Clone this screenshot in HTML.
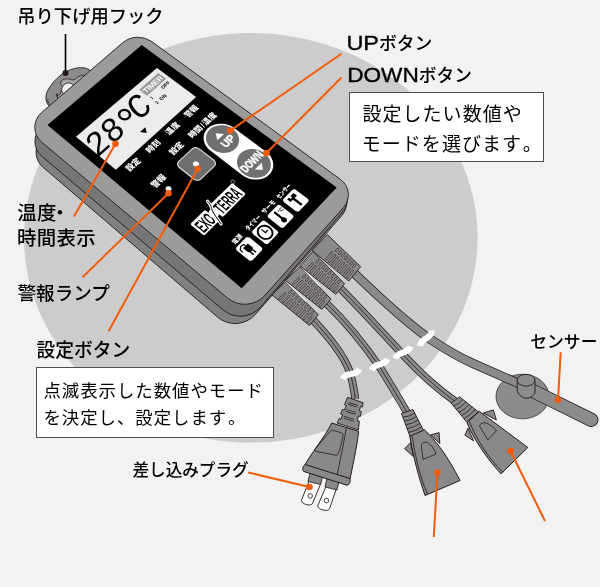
<!DOCTYPE html>
<html lang="ja"><head><meta charset="utf-8"><title>各部の名称</title>
<style>
html,body{margin:0;padding:0;background:#f2f2f2;}
body{width:600px;height:587px;overflow:hidden;}
svg{display:block;will-change:transform;font-family:"Liberation Sans","Noto Sans CJK JP",sans-serif;}
</style></head><body>
<svg width="600" height="587" viewBox="0 0 600 587">
<rect width="600" height="587" fill="#f2f2f2"/>
<ellipse cx="250.8" cy="237.8" rx="226.8" ry="204.8" fill="#cccccc"/>
<ellipse cx="522.5" cy="396.5" rx="26.5" ry="22.3" fill="#8c8c8c" stroke="#231815" stroke-width="0.7"/>
<path d="M313 320 C 332 340 348 361 351.5 378 C 353.5 387 355 394 355 399" fill="none" stroke="#231815" stroke-width="7.8" stroke-linecap="butt"/>
<path d="M313 320 C 332 340 348 361 351.5 378 C 353.5 387 355 394 355 399" fill="none" stroke="#8a8a8a" stroke-width="6.3" stroke-linecap="butt"/>
<path d="M313 320 C 332 340 348 361 351.5 378 C 353.5 387 355 394 355 399" fill="none" stroke="#231815" stroke-width="0.8"/>
<path d="M327 304 C 350 326 368 350 381 369 C 392 387 401 402 408 414" fill="none" stroke="#231815" stroke-width="7.8" stroke-linecap="butt"/>
<path d="M327 304 C 350 326 368 350 381 369 C 392 387 401 402 408 414" fill="none" stroke="#8a8a8a" stroke-width="6.3" stroke-linecap="butt"/>
<path d="M327 304 C 350 326 368 350 381 369 C 392 387 401 402 408 414" fill="none" stroke="#231815" stroke-width="0.8"/>
<path d="M340.6 288.75 C 363 311 389 340 408 360 C 424 377 442 392 456 402" fill="none" stroke="#231815" stroke-width="7.8" stroke-linecap="butt"/>
<path d="M340.6 288.75 C 363 311 389 340 408 360 C 424 377 442 392 456 402" fill="none" stroke="#8a8a8a" stroke-width="6.3" stroke-linecap="butt"/>
<path d="M340.6 288.75 C 363 311 389 340 408 360 C 424 377 442 392 456 402" fill="none" stroke="#231815" stroke-width="0.8"/>
<path d="M355 274 C 380 298 408 324 430 339 C 448 351 462 358.5 472 363 L 522 385" fill="none" stroke="#231815" stroke-width="9.2" stroke-linecap="butt"/>
<path d="M355 274 C 380 298 408 324 430 339 C 448 351 462 358.5 472 363 L 522 385" fill="none" stroke="#8a8a8a" stroke-width="7.7" stroke-linecap="butt"/>
<path transform="translate(351 374) rotate(-18)" d="M-9.5 2 C-3.17 -4.5 3.17 4.5 9.5 -2" fill="none" stroke="#fff" stroke-width="6" stroke-linecap="butt"/>
<path transform="translate(379.5 364.5) rotate(-23)" d="M-9.5 2 C-3.17 -4.5 3.17 4.5 9.5 -2" fill="none" stroke="#fff" stroke-width="6" stroke-linecap="butt"/>
<path transform="translate(402.8 352.6) rotate(-27)" d="M-9.5 2 C-3.17 -4.5 3.17 4.5 9.5 -2" fill="none" stroke="#fff" stroke-width="6" stroke-linecap="butt"/>
<path transform="translate(426.1 338.3) rotate(-41)" d="M-9.5 2 C-3.17 -4.5 3.17 4.5 9.5 -2" fill="none" stroke="#fff" stroke-width="6" stroke-linecap="butt"/>
<path d="M347.5 397.3 L363.1 402.7 L362.3 407 L360.3 406.6 L359.4 411 L361.3 411.6 L360.3 416.4 L358.4 416 L357.4 420.6 L359.4 421.2 L358.4 430 L337.2 423 L339 418.6 L341 419.2 L342.6 414.6 L340.6 414 L342.4 409.4 L344.4 410 L346.2 405.4 L344.6 404.8 Z" fill="#898989" stroke="#231815" stroke-width="0.9" stroke-linejoin="round"/>
<line x1="348.5" y1="403.5" x2="357.5" y2="406.3" stroke="#231815" stroke-width="2.6"/>
<line x1="348.5" y1="403.5" x2="357.5" y2="406.3" stroke="#898989" stroke-width="1.3"/>
<line x1="346.2" y1="410.4" x2="355.6" y2="413.2" stroke="#231815" stroke-width="2.6"/>
<line x1="346.2" y1="410.4" x2="355.6" y2="413.2" stroke="#898989" stroke-width="1.3"/>
<line x1="344" y1="417.3" x2="353.6" y2="420.2" stroke="#231815" stroke-width="2.6"/>
<line x1="344" y1="417.3" x2="353.6" y2="420.2" stroke="#898989" stroke-width="1.3"/>
<path d="M309.1 480.9 L301.6 499.9 C300.13 503.62 311.03 507.12 312.5 503.4 L320.7 483.6 Z" fill="#fff" stroke="#231815" stroke-width="0.9"/>
<circle cx="310.2" cy="495.9" r="2.3" fill="#fff" stroke="#231815" stroke-width="0.8"/>
<path d="M326.1 486.3 L317.9 505.4 C316.32 509.08 327.92 512.48 329.5 508.8 L336.3 489 Z" fill="#fff" stroke="#231815" stroke-width="0.9"/>
<circle cx="326.5" cy="500.6" r="2.3" fill="#fff" stroke="#231815" stroke-width="0.8"/>
<path d="M310.4 471 L308 481.5 L320.5 484.5 L323 475 Z" fill="#898989" stroke="#231815" stroke-width="0.8"/>
<path d="M327.5 476 L325 487 L337 490 L339.4 480 Z" fill="#898989" stroke="#231815" stroke-width="0.8"/>
<path d="M331.8 423.1 L358.6 431.3 C 358 440 354 460 350 479 L 304.3 466 C 310 455 324 438 331.8 423.1 Z" fill="#898989" stroke="#231815" stroke-width="1"/>
<path d="M346.3 427.6 C 345 436 342 452 337.2 474.5" fill="none" stroke="#231815" stroke-width="0.8"/>
<path d="M331.4 430 L341.6 432.8 Q343.4 433.5 343 435.5 C 342 442 340 449 338.2 454 Q337.5 455.6 335.5 455.2 L 315.5 451.2 Q 314 450.6 315 449 C 321 442 326 436 331.4 430 Z" fill="none" stroke="#231815" stroke-width="0.8"/>
<path d="M305.4 464.6 C 302.6 465.6 302 469.5 303.6 471.4 L 347 485.2 C 350 484.6 351 480.6 349.6 478.4 Z" fill="#898989" stroke="#231815" stroke-width="1"/>
<path d="M410.7 442.5 L404.6 448.7 L413.4 456.6Z" fill="#898989" stroke="#231815" stroke-width="0.9" stroke-linejoin="round"/>
<path d="M430.6 434.9 L439.1 432.6 L439.8 443.5Z" fill="#898989" stroke="#231815" stroke-width="0.9" stroke-linejoin="round"/>
<path d="M409.7 435.6 L424.3 429.6 C 436 441 447 455 460 480.5 L 425 495.5 C 419 478 413 456 409.7 435.6 Z" fill="#898989" stroke="#231815" stroke-width="1" stroke-linejoin="round"/>
<path d="M401.5 413.4 L413 409.6 L423.4 430.3 L409.9 436.2Z" fill="#898989" stroke="#231815" stroke-width="0.9" stroke-linejoin="round"/>
<path d="M402.9 417.2 Q409.4 416.72 414.73 413.05" fill="none" stroke="#231815" stroke-width="0.8"/>
<path d="M404.3 421 Q410.97 420.35 416.47 416.5" fill="none" stroke="#231815" stroke-width="0.8"/>
<path d="M405.7 424.8 Q412.54 423.97 418.2 419.95" fill="none" stroke="#231815" stroke-width="0.8"/>
<path d="M407.1 428.6 Q414.1 427.6 419.93 423.4" fill="none" stroke="#231815" stroke-width="0.8"/>
<path d="M408.5 432.4 Q415.67 431.22 421.67 426.85" fill="none" stroke="#231815" stroke-width="0.8"/>
<path d="M421.4 445.6 L423 459.4 L436 454 C 433 446 428 441.5 425 442.3 C 423 442.6 421.6 443.6 421.4 445.6 Z" fill="none" stroke="#231815" stroke-width="0.8" stroke-linejoin="round"/>
<path d="M412 435.4 C 415 455 420 478 427.5 494" fill="none" stroke="#231815" stroke-width="0.8"/>
<path d="M468 428.3 L464.9 435.2 L473.6 440.8Z" fill="#898989" stroke="#231815" stroke-width="0.9" stroke-linejoin="round"/>
<path d="M483.3 413 L493.3 409.9 L496.4 420Z" fill="#898989" stroke="#231815" stroke-width="0.9" stroke-linejoin="round"/>
<path d="M467 422.6 L479.3 411.3 L 527.8 447.5 L 501 473.8 C 486 458 472 436 467 422.6 Z" fill="#898989" stroke="#231815" stroke-width="1" stroke-linejoin="round"/>
<path d="M451.1 403 L459.6 396.9 L478.4 411.8 L466.5 421.8Z" fill="#898989" stroke="#231815" stroke-width="0.9" stroke-linejoin="round"/>
<path d="M453.67 406.13 Q459.28 404.07 462.73 399.38" fill="none" stroke="#231815" stroke-width="0.8"/>
<path d="M456.23 409.27 Q462.13 406.88 465.87 401.87" fill="none" stroke="#231815" stroke-width="0.8"/>
<path d="M458.8 412.4 Q464.98 409.69 469 404.35" fill="none" stroke="#231815" stroke-width="0.8"/>
<path d="M461.37 415.53 Q467.83 412.5 472.13 406.83" fill="none" stroke="#231815" stroke-width="0.8"/>
<path d="M463.93 418.67 Q470.68 415.31 475.27 409.32" fill="none" stroke="#231815" stroke-width="0.8"/>
<path d="M479.5 426 L487.9 439.8 L496.4 430.6 C 492 425.5 487 422.6 484 422.8 C 481.6 423 480 424 479.5 426 Z" fill="none" stroke="#231815" stroke-width="0.8" stroke-linejoin="round"/>
<path d="M469.2 421.4 C 476 438 488 458 503 472.4" fill="none" stroke="#231815" stroke-width="0.8"/>
<path d="M531 390 L591.3 419.8" fill="none" stroke="#231815" stroke-width="14.2" stroke-linecap="round"/>
<path d="M531 390 L591.3 419.8" fill="none" stroke="#8c8c8c" stroke-width="12.6" stroke-linecap="round"/>
<path d="M517.2 380 L517.2 390.5 C 518 394 522 398.2 526.5 398.2 C 531 398.2 534.6 395 535 392 L535 380.5 Z" fill="#8c8c8c" stroke="#231815" stroke-width="0.9"/>
<ellipse cx="526.1" cy="380.2" rx="8.9" ry="5.9" fill="#8c8c8c" stroke="#231815" stroke-width="0.9"/>
<path d="M48.2 105 C 44.6 100 45.3 93 50.2 86.6 C 55 79 63 72.5 70.7 69.7 C 77 67.4 84 66.8 88 69.2 L 93 72 L 52 108 Z" fill="#8c8c8c" stroke="#231815" stroke-width="0.9"/>
<path d="M47.6 99 C 47.6 102 49.5 105 52 106.5" fill="none" stroke="#231815" stroke-width="0.7"/>
<path d="M56.9 93.7 L 56.9 96.5 L 60.5 93.5 L 61.5 90 C 62.8 88.5 63 86.5 62 85.6 C 60 84 60 82 62 80.4 C 64 78.8 66.5 78.6 68.6 78.9 C 71 79.3 72.5 80.3 73.7 79.9 C 76 79.2 77 77 78.9 76.4 C 81 75.6 83.5 75.1 85 75.3 L 88 77 L 58 100 Z" fill="#a3a3a3" stroke="#231815" stroke-width="0.8"/>
<ellipse cx="67.8" cy="88.6" rx="6.4" ry="5.2" transform="rotate(-38 67.8 88.8)" fill="#f2f2f2" stroke="#231815" stroke-width="0.7"/>
<path d="M123.33 58.42A24 24 0 0 1 154.1 56L338.53 187.62A19 19 0 0 1 341.79 215.59L255.41 314.36A27 27 0 0 1 217.5 317.07L42.82 167.05A19.4 19.4 0 0 1 41.86 138.5Z" fill="#808080" stroke="#231815" stroke-width="0.9"/>
<path d="M123.28 51.57A24 24 0 0 1 153.58 49.77L339.5 184.07A19 19 0 0 1 342.76 211.88L260.79 306.84A27 27 0 0 1 222.89 309.79L41.75 156.2A19.4 19.4 0 0 1 41.16 127.13Z" fill="#767676" stroke="#231815" stroke-width="0.9"/>
<path d="M285.4 282.1 L271.8 294.8 L309.5 325.5 L318.3 314.6Z" fill="#8a8a8a" stroke="#231815" stroke-width="0.9"/>
<line x1="285.21" y1="293.65" x2="279.98" y2="298.73" stroke="#3a302c" stroke-width="2.5" stroke-linecap="round"/>
<line x1="285.21" y1="293.65" x2="279.98" y2="298.73" stroke="#8a8a8a" stroke-width="1.45" stroke-linecap="round"/>
<line x1="288.47" y1="296.59" x2="283.42" y2="301.6" stroke="#3a302c" stroke-width="2.5" stroke-linecap="round"/>
<line x1="288.47" y1="296.59" x2="283.42" y2="301.6" stroke="#8a8a8a" stroke-width="1.45" stroke-linecap="round"/>
<line x1="291.73" y1="299.53" x2="286.87" y2="304.47" stroke="#3a302c" stroke-width="2.5" stroke-linecap="round"/>
<line x1="291.73" y1="299.53" x2="286.87" y2="304.47" stroke="#8a8a8a" stroke-width="1.45" stroke-linecap="round"/>
<line x1="294.99" y1="302.46" x2="290.31" y2="307.33" stroke="#3a302c" stroke-width="2.5" stroke-linecap="round"/>
<line x1="294.99" y1="302.46" x2="290.31" y2="307.33" stroke="#8a8a8a" stroke-width="1.45" stroke-linecap="round"/>
<line x1="298.26" y1="305.4" x2="293.76" y2="310.2" stroke="#3a302c" stroke-width="2.5" stroke-linecap="round"/>
<line x1="298.26" y1="305.4" x2="293.76" y2="310.2" stroke="#8a8a8a" stroke-width="1.45" stroke-linecap="round"/>
<line x1="301.52" y1="308.34" x2="297.2" y2="313.07" stroke="#3a302c" stroke-width="2.5" stroke-linecap="round"/>
<line x1="301.52" y1="308.34" x2="297.2" y2="313.07" stroke="#8a8a8a" stroke-width="1.45" stroke-linecap="round"/>
<line x1="304.78" y1="311.27" x2="300.65" y2="315.94" stroke="#3a302c" stroke-width="2.5" stroke-linecap="round"/>
<line x1="304.78" y1="311.27" x2="300.65" y2="315.94" stroke="#8a8a8a" stroke-width="1.45" stroke-linecap="round"/>
<line x1="308.04" y1="314.21" x2="304.09" y2="318.81" stroke="#3a302c" stroke-width="2.5" stroke-linecap="round"/>
<line x1="308.04" y1="314.21" x2="304.09" y2="318.81" stroke="#8a8a8a" stroke-width="1.45" stroke-linecap="round"/>
<line x1="311.3" y1="317.15" x2="307.53" y2="321.68" stroke="#3a302c" stroke-width="2.5" stroke-linecap="round"/>
<line x1="311.3" y1="317.15" x2="307.53" y2="321.68" stroke="#8a8a8a" stroke-width="1.45" stroke-linecap="round"/>
<line x1="290.98" y1="291.06" x2="289.35" y2="292.66" stroke="#3a302c" stroke-width="2.5" stroke-linecap="round"/>
<line x1="290.98" y1="291.06" x2="289.35" y2="292.66" stroke="#8a8a8a" stroke-width="1.45" stroke-linecap="round"/>
<line x1="294.09" y1="294.05" x2="292.52" y2="295.63" stroke="#3a302c" stroke-width="2.5" stroke-linecap="round"/>
<line x1="294.09" y1="294.05" x2="292.52" y2="295.63" stroke="#8a8a8a" stroke-width="1.45" stroke-linecap="round"/>
<line x1="297.2" y1="297.05" x2="295.69" y2="298.6" stroke="#3a302c" stroke-width="2.5" stroke-linecap="round"/>
<line x1="297.2" y1="297.05" x2="295.69" y2="298.6" stroke="#8a8a8a" stroke-width="1.45" stroke-linecap="round"/>
<line x1="300.32" y1="300.04" x2="298.86" y2="301.57" stroke="#3a302c" stroke-width="2.5" stroke-linecap="round"/>
<line x1="300.32" y1="300.04" x2="298.86" y2="301.57" stroke="#8a8a8a" stroke-width="1.45" stroke-linecap="round"/>
<line x1="303.43" y1="303.03" x2="302.04" y2="304.54" stroke="#3a302c" stroke-width="2.5" stroke-linecap="round"/>
<line x1="303.43" y1="303.03" x2="302.04" y2="304.54" stroke="#8a8a8a" stroke-width="1.45" stroke-linecap="round"/>
<line x1="306.55" y1="306.02" x2="305.21" y2="307.51" stroke="#3a302c" stroke-width="2.5" stroke-linecap="round"/>
<line x1="306.55" y1="306.02" x2="305.21" y2="307.51" stroke="#8a8a8a" stroke-width="1.45" stroke-linecap="round"/>
<line x1="309.66" y1="309.01" x2="308.38" y2="310.48" stroke="#3a302c" stroke-width="2.5" stroke-linecap="round"/>
<line x1="309.66" y1="309.01" x2="308.38" y2="310.48" stroke="#8a8a8a" stroke-width="1.45" stroke-linecap="round"/>
<line x1="312.78" y1="312.01" x2="311.55" y2="313.45" stroke="#3a302c" stroke-width="2.5" stroke-linecap="round"/>
<line x1="312.78" y1="312.01" x2="311.55" y2="313.45" stroke="#8a8a8a" stroke-width="1.45" stroke-linecap="round"/>
<line x1="286.56" y1="282.15" x2="306.3" y2="301.65" stroke="#f2f2f2" stroke-width="1.1"/>
<path d="M299.9 266.7 L285.4 280.4 L321.8 309.3 L331 299.1Z" fill="#8a8a8a" stroke="#231815" stroke-width="0.9"/>
<line x1="299.01" y1="278.56" x2="293.45" y2="283.93" stroke="#3a302c" stroke-width="2.5" stroke-linecap="round"/>
<line x1="299.01" y1="278.56" x2="293.45" y2="283.93" stroke="#8a8a8a" stroke-width="1.45" stroke-linecap="round"/>
<line x1="302.13" y1="281.42" x2="296.77" y2="286.65" stroke="#3a302c" stroke-width="2.5" stroke-linecap="round"/>
<line x1="302.13" y1="281.42" x2="296.77" y2="286.65" stroke="#8a8a8a" stroke-width="1.45" stroke-linecap="round"/>
<line x1="305.24" y1="284.27" x2="300.08" y2="289.37" stroke="#3a302c" stroke-width="2.5" stroke-linecap="round"/>
<line x1="305.24" y1="284.27" x2="300.08" y2="289.37" stroke="#8a8a8a" stroke-width="1.45" stroke-linecap="round"/>
<line x1="308.36" y1="287.12" x2="303.4" y2="292.09" stroke="#3a302c" stroke-width="2.5" stroke-linecap="round"/>
<line x1="308.36" y1="287.12" x2="303.4" y2="292.09" stroke="#8a8a8a" stroke-width="1.45" stroke-linecap="round"/>
<line x1="311.48" y1="289.98" x2="306.72" y2="294.81" stroke="#3a302c" stroke-width="2.5" stroke-linecap="round"/>
<line x1="311.48" y1="289.98" x2="306.72" y2="294.81" stroke="#8a8a8a" stroke-width="1.45" stroke-linecap="round"/>
<line x1="314.59" y1="292.83" x2="310.04" y2="297.53" stroke="#3a302c" stroke-width="2.5" stroke-linecap="round"/>
<line x1="314.59" y1="292.83" x2="310.04" y2="297.53" stroke="#8a8a8a" stroke-width="1.45" stroke-linecap="round"/>
<line x1="317.71" y1="295.68" x2="313.36" y2="300.25" stroke="#3a302c" stroke-width="2.5" stroke-linecap="round"/>
<line x1="317.71" y1="295.68" x2="313.36" y2="300.25" stroke="#8a8a8a" stroke-width="1.45" stroke-linecap="round"/>
<line x1="320.83" y1="298.54" x2="316.68" y2="302.97" stroke="#3a302c" stroke-width="2.5" stroke-linecap="round"/>
<line x1="320.83" y1="298.54" x2="316.68" y2="302.97" stroke="#8a8a8a" stroke-width="1.45" stroke-linecap="round"/>
<line x1="323.94" y1="301.39" x2="319.99" y2="305.69" stroke="#3a302c" stroke-width="2.5" stroke-linecap="round"/>
<line x1="323.94" y1="301.39" x2="319.99" y2="305.69" stroke="#8a8a8a" stroke-width="1.45" stroke-linecap="round"/>
<line x1="304.96" y1="275.73" x2="303.23" y2="277.41" stroke="#3a302c" stroke-width="2.5" stroke-linecap="round"/>
<line x1="304.96" y1="275.73" x2="303.23" y2="277.41" stroke="#8a8a8a" stroke-width="1.45" stroke-linecap="round"/>
<line x1="307.92" y1="278.69" x2="306.25" y2="280.32" stroke="#3a302c" stroke-width="2.5" stroke-linecap="round"/>
<line x1="307.92" y1="278.69" x2="306.25" y2="280.32" stroke="#8a8a8a" stroke-width="1.45" stroke-linecap="round"/>
<line x1="310.87" y1="281.65" x2="309.27" y2="283.24" stroke="#3a302c" stroke-width="2.5" stroke-linecap="round"/>
<line x1="310.87" y1="281.65" x2="309.27" y2="283.24" stroke="#8a8a8a" stroke-width="1.45" stroke-linecap="round"/>
<line x1="313.83" y1="284.61" x2="312.29" y2="286.16" stroke="#3a302c" stroke-width="2.5" stroke-linecap="round"/>
<line x1="313.83" y1="284.61" x2="312.29" y2="286.16" stroke="#8a8a8a" stroke-width="1.45" stroke-linecap="round"/>
<line x1="316.78" y1="287.57" x2="315.3" y2="289.08" stroke="#3a302c" stroke-width="2.5" stroke-linecap="round"/>
<line x1="316.78" y1="287.57" x2="315.3" y2="289.08" stroke="#8a8a8a" stroke-width="1.45" stroke-linecap="round"/>
<line x1="319.73" y1="290.53" x2="318.32" y2="292" stroke="#3a302c" stroke-width="2.5" stroke-linecap="round"/>
<line x1="319.73" y1="290.53" x2="318.32" y2="292" stroke="#8a8a8a" stroke-width="1.45" stroke-linecap="round"/>
<line x1="322.69" y1="293.49" x2="321.34" y2="294.92" stroke="#3a302c" stroke-width="2.5" stroke-linecap="round"/>
<line x1="322.69" y1="293.49" x2="321.34" y2="294.92" stroke="#8a8a8a" stroke-width="1.45" stroke-linecap="round"/>
<line x1="325.64" y1="296.45" x2="324.36" y2="297.83" stroke="#3a302c" stroke-width="2.5" stroke-linecap="round"/>
<line x1="325.64" y1="296.45" x2="324.36" y2="297.83" stroke="#8a8a8a" stroke-width="1.45" stroke-linecap="round"/>
<line x1="301.02" y1="266.75" x2="319.68" y2="286.19" stroke="#f2f2f2" stroke-width="1.1"/>
<path d="M312.7 251.4 L299.9 265.9 L335.7 294.2 L344.6 283.8Z" fill="#8a8a8a" stroke="#231815" stroke-width="0.9"/>
<line x1="312.63" y1="263.59" x2="307.67" y2="269.24" stroke="#3a302c" stroke-width="2.5" stroke-linecap="round"/>
<line x1="312.63" y1="263.59" x2="307.67" y2="269.24" stroke="#8a8a8a" stroke-width="1.45" stroke-linecap="round"/>
<line x1="315.76" y1="266.42" x2="310.95" y2="271.91" stroke="#3a302c" stroke-width="2.5" stroke-linecap="round"/>
<line x1="315.76" y1="266.42" x2="310.95" y2="271.91" stroke="#8a8a8a" stroke-width="1.45" stroke-linecap="round"/>
<line x1="318.89" y1="269.24" x2="314.22" y2="274.58" stroke="#3a302c" stroke-width="2.5" stroke-linecap="round"/>
<line x1="318.89" y1="269.24" x2="314.22" y2="274.58" stroke="#8a8a8a" stroke-width="1.45" stroke-linecap="round"/>
<line x1="322.02" y1="272.07" x2="317.5" y2="277.25" stroke="#3a302c" stroke-width="2.5" stroke-linecap="round"/>
<line x1="322.02" y1="272.07" x2="317.5" y2="277.25" stroke="#8a8a8a" stroke-width="1.45" stroke-linecap="round"/>
<line x1="325.15" y1="274.9" x2="320.78" y2="279.92" stroke="#3a302c" stroke-width="2.5" stroke-linecap="round"/>
<line x1="325.15" y1="274.9" x2="320.78" y2="279.92" stroke="#8a8a8a" stroke-width="1.45" stroke-linecap="round"/>
<line x1="328.28" y1="277.73" x2="324.06" y2="282.59" stroke="#3a302c" stroke-width="2.5" stroke-linecap="round"/>
<line x1="328.28" y1="277.73" x2="324.06" y2="282.59" stroke="#8a8a8a" stroke-width="1.45" stroke-linecap="round"/>
<line x1="331.41" y1="280.55" x2="327.34" y2="285.27" stroke="#3a302c" stroke-width="2.5" stroke-linecap="round"/>
<line x1="331.41" y1="280.55" x2="327.34" y2="285.27" stroke="#8a8a8a" stroke-width="1.45" stroke-linecap="round"/>
<line x1="334.54" y1="283.38" x2="330.61" y2="287.94" stroke="#3a302c" stroke-width="2.5" stroke-linecap="round"/>
<line x1="334.54" y1="283.38" x2="330.61" y2="287.94" stroke="#8a8a8a" stroke-width="1.45" stroke-linecap="round"/>
<line x1="337.67" y1="286.21" x2="333.89" y2="290.61" stroke="#3a302c" stroke-width="2.5" stroke-linecap="round"/>
<line x1="337.67" y1="286.21" x2="333.89" y2="290.61" stroke="#8a8a8a" stroke-width="1.45" stroke-linecap="round"/>
<line x1="318.14" y1="260.52" x2="316.59" y2="262.29" stroke="#3a302c" stroke-width="2.5" stroke-linecap="round"/>
<line x1="318.14" y1="260.52" x2="316.59" y2="262.29" stroke="#8a8a8a" stroke-width="1.45" stroke-linecap="round"/>
<line x1="321.15" y1="263.47" x2="319.64" y2="265.19" stroke="#3a302c" stroke-width="2.5" stroke-linecap="round"/>
<line x1="321.15" y1="263.47" x2="319.64" y2="265.19" stroke="#8a8a8a" stroke-width="1.45" stroke-linecap="round"/>
<line x1="324.16" y1="266.43" x2="322.7" y2="268.09" stroke="#3a302c" stroke-width="2.5" stroke-linecap="round"/>
<line x1="324.16" y1="266.43" x2="322.7" y2="268.09" stroke="#8a8a8a" stroke-width="1.45" stroke-linecap="round"/>
<line x1="327.17" y1="269.38" x2="325.76" y2="271" stroke="#3a302c" stroke-width="2.5" stroke-linecap="round"/>
<line x1="327.17" y1="269.38" x2="325.76" y2="271" stroke="#8a8a8a" stroke-width="1.45" stroke-linecap="round"/>
<line x1="330.18" y1="272.33" x2="328.81" y2="273.9" stroke="#3a302c" stroke-width="2.5" stroke-linecap="round"/>
<line x1="330.18" y1="272.33" x2="328.81" y2="273.9" stroke="#8a8a8a" stroke-width="1.45" stroke-linecap="round"/>
<line x1="333.19" y1="275.28" x2="331.87" y2="276.8" stroke="#3a302c" stroke-width="2.5" stroke-linecap="round"/>
<line x1="333.19" y1="275.28" x2="331.87" y2="276.8" stroke="#8a8a8a" stroke-width="1.45" stroke-linecap="round"/>
<line x1="336.2" y1="278.24" x2="334.93" y2="279.71" stroke="#3a302c" stroke-width="2.5" stroke-linecap="round"/>
<line x1="336.2" y1="278.24" x2="334.93" y2="279.71" stroke="#8a8a8a" stroke-width="1.45" stroke-linecap="round"/>
<line x1="339.21" y1="281.19" x2="337.99" y2="282.61" stroke="#3a302c" stroke-width="2.5" stroke-linecap="round"/>
<line x1="339.21" y1="281.19" x2="337.99" y2="282.61" stroke="#8a8a8a" stroke-width="1.45" stroke-linecap="round"/>
<path d="M327.2 234.4 L312.2 250.4 L348.8 281 L360.6 266.7Z" fill="#8a8a8a" stroke="#231815" stroke-width="0.9"/>
<line x1="332.07" y1="252.68" x2="326.37" y2="259" stroke="#3a302c" stroke-width="2.5" stroke-linecap="round"/>
<line x1="332.07" y1="252.68" x2="326.37" y2="259" stroke="#8a8a8a" stroke-width="1.45" stroke-linecap="round"/>
<line x1="334.97" y1="255.3" x2="329.38" y2="261.56" stroke="#3a302c" stroke-width="2.5" stroke-linecap="round"/>
<line x1="334.97" y1="255.3" x2="329.38" y2="261.56" stroke="#8a8a8a" stroke-width="1.45" stroke-linecap="round"/>
<line x1="337.87" y1="257.92" x2="332.39" y2="264.12" stroke="#3a302c" stroke-width="2.5" stroke-linecap="round"/>
<line x1="337.87" y1="257.92" x2="332.39" y2="264.12" stroke="#8a8a8a" stroke-width="1.45" stroke-linecap="round"/>
<line x1="340.78" y1="260.54" x2="335.4" y2="266.68" stroke="#3a302c" stroke-width="2.5" stroke-linecap="round"/>
<line x1="340.78" y1="260.54" x2="335.4" y2="266.68" stroke="#8a8a8a" stroke-width="1.45" stroke-linecap="round"/>
<line x1="343.68" y1="263.15" x2="338.41" y2="269.24" stroke="#3a302c" stroke-width="2.5" stroke-linecap="round"/>
<line x1="343.68" y1="263.15" x2="338.41" y2="269.24" stroke="#8a8a8a" stroke-width="1.45" stroke-linecap="round"/>
<line x1="346.58" y1="265.77" x2="341.42" y2="271.8" stroke="#3a302c" stroke-width="2.5" stroke-linecap="round"/>
<line x1="346.58" y1="265.77" x2="341.42" y2="271.8" stroke="#8a8a8a" stroke-width="1.45" stroke-linecap="round"/>
<line x1="349.48" y1="268.39" x2="344.43" y2="274.36" stroke="#3a302c" stroke-width="2.5" stroke-linecap="round"/>
<line x1="349.48" y1="268.39" x2="344.43" y2="274.36" stroke="#8a8a8a" stroke-width="1.45" stroke-linecap="round"/>
<line x1="352.38" y1="271.01" x2="347.44" y2="276.93" stroke="#3a302c" stroke-width="2.5" stroke-linecap="round"/>
<line x1="352.38" y1="271.01" x2="347.44" y2="276.93" stroke="#8a8a8a" stroke-width="1.45" stroke-linecap="round"/>
<line x1="338.07" y1="248.92" x2="336.28" y2="250.92" stroke="#3a302c" stroke-width="2.5" stroke-linecap="round"/>
<line x1="338.07" y1="248.92" x2="336.28" y2="250.92" stroke="#8a8a8a" stroke-width="1.45" stroke-linecap="round"/>
<line x1="340.88" y1="251.59" x2="339.13" y2="253.57" stroke="#3a302c" stroke-width="2.5" stroke-linecap="round"/>
<line x1="340.88" y1="251.59" x2="339.13" y2="253.57" stroke="#8a8a8a" stroke-width="1.45" stroke-linecap="round"/>
<line x1="343.7" y1="254.25" x2="341.97" y2="256.21" stroke="#3a302c" stroke-width="2.5" stroke-linecap="round"/>
<line x1="343.7" y1="254.25" x2="341.97" y2="256.21" stroke="#8a8a8a" stroke-width="1.45" stroke-linecap="round"/>
<line x1="346.51" y1="256.92" x2="344.82" y2="258.86" stroke="#3a302c" stroke-width="2.5" stroke-linecap="round"/>
<line x1="346.51" y1="256.92" x2="344.82" y2="258.86" stroke="#8a8a8a" stroke-width="1.45" stroke-linecap="round"/>
<line x1="349.32" y1="259.58" x2="347.67" y2="261.51" stroke="#3a302c" stroke-width="2.5" stroke-linecap="round"/>
<line x1="349.32" y1="259.58" x2="347.67" y2="261.51" stroke="#8a8a8a" stroke-width="1.45" stroke-linecap="round"/>
<line x1="352.14" y1="262.25" x2="350.52" y2="264.15" stroke="#3a302c" stroke-width="2.5" stroke-linecap="round"/>
<line x1="352.14" y1="262.25" x2="350.52" y2="264.15" stroke="#8a8a8a" stroke-width="1.45" stroke-linecap="round"/>
<line x1="354.95" y1="264.91" x2="353.37" y2="266.8" stroke="#3a302c" stroke-width="2.5" stroke-linecap="round"/>
<line x1="354.95" y1="264.91" x2="353.37" y2="266.8" stroke="#8a8a8a" stroke-width="1.45" stroke-linecap="round"/>
<path d="M122.36 43.02A24 24 0 0 1 152.18 41.84L340.56 179.52A19 19 0 0 1 343.51 207.53L264.94 295.32A27 27 0 0 1 227.47 298L41.69 142.17A19.4 19.4 0 0 1 41.51 112.61Z" fill="#9b9b9b" stroke="#231815" stroke-width="0.9"/>
<path d="M47.5 125 L141.7 45 L336.7 187.5 L241.7 288.3Z" fill="#000"/>
<path d="M75.95 136.67 L157 68.1 L196.08 96.98 L115.86 169.87Z" fill="#ececec"/>
<text transform="matrix(0.9654 -0.8629 1.0365 0.8639 98.3 157.32)" font-size="25.8" fill="#000" font-weight="normal" text-anchor="start" font-style="italic" font-family="Liberation Mono,monospace">28<tspan font-family="Liberation Sans,sans-serif" font-size="34" dx="-0.25" dy="8.3">°</tspan><tspan dx="-1.5" dy="-8.3">C</tspan></text>
<path d="M140.02 132.02 L145.26 127.3 L146.82 133.02Z" fill="#000"/>
<path d="M139.2 89.73 L158.31 73.01 L166.19 78.85 L147.07 95.73Z" fill="#999"/>
<text transform="matrix(0.9147 -0.8061 1.0255 0.7713 155.09 85.97)" font-size="6.1" fill="#fff" font-weight="bold" text-anchor="middle" >TIMER</text>
<text transform="matrix(0.9092 -0.8070 1.0349 0.7723 166.77 86.07)" font-size="4" fill="#000" font-weight="bold" text-anchor="middle" >OFF</text>
<text transform="matrix(0.9192 -0.8216 1.0430 0.7883 164.3 98.33)" font-size="4" fill="#000" font-weight="bold" text-anchor="middle" >ON</text>
<text transform="matrix(0.9251 -0.8213 1.0341 0.7881 152.85 98.77)" font-size="3.4" fill="#000" font-weight="bold" text-anchor="middle" >1</text>
<text transform="matrix(0.9259 -0.8273 1.0421 0.7946 158.09 103.37)" font-size="3.4" fill="#000" font-weight="bold" text-anchor="middle" >2</text>
<text transform="matrix(0.9832 -0.9039 1.0746 0.8793 135.47 166.42)" font-size="6" fill="#fff" font-weight="900" text-anchor="middle" >設定</text>
<text transform="matrix(0.9597 -0.8823 1.0763 0.8552 155.38 148.11)" font-size="6" fill="#fff" font-weight="900" text-anchor="middle" >時刻</text>
<text transform="matrix(0.9371 -0.8616 1.0777 0.8322 174.72 130.33)" font-size="6" fill="#fff" font-weight="900" text-anchor="middle" >温度</text>
<text transform="matrix(0.9153 -0.8415 1.0787 0.8099 193.62 112.95)" font-size="6" fill="#fff" font-weight="900" text-anchor="middle" >警報</text>
<text transform="matrix(0.9493 -0.8867 1.0976 0.8599 178.84 150.24)" font-size="6" fill="#fff" font-weight="900" text-anchor="middle" >設定</text>
<text transform="matrix(0.9197 -0.8596 1.0996 0.8297 204.71 127)" font-size="6" fill="#fff" font-weight="900" text-anchor="middle" >時間<tspan dx="0.7">/</tspan><tspan dx="0.7">温度</tspan></text>
<text transform="matrix(0.9822 -0.9271 1.1094 0.9047 160.86 183.04)" font-size="6" fill="#fff" font-weight="900" text-anchor="middle" >警報</text>
<path d="M170.48 186.89 L170.84 187.24 L171.13 187.63 L171.34 188.06 L171.46 188.5 L171.5 188.96 L171.44 189.41 L171.3 189.84 L171.07 190.24 L170.76 190.59 L170.39 190.89 L169.95 191.12 L169.48 191.28 L168.97 191.37 L168.45 191.37 L167.93 191.3 L167.43 191.15 L166.97 190.92 L166.55 190.63 L166.19 190.29 L165.9 189.89 L165.69 189.47 L165.57 189.02 L165.54 188.56 L165.59 188.11 L165.74 187.69 L165.97 187.29 L166.28 186.94 L166.65 186.64 L167.08 186.41 L167.56 186.25 L168.06 186.16 L168.58 186.16 L169.1 186.23 L169.59 186.38 L170.06 186.61Z" fill="#fff"/>
<path d="M192.15 148.93 L193.1 148.25 L194.25 147.82 L195.51 147.66 L196.8 147.78 L198.03 148.19 L199.12 148.84 L213.62 160.03 L214.51 160.91 L215.12 161.94 L215.42 163.04 L215.37 164.16 L214.99 165.2 L214.29 166.1 L200.99 178.94 L200.01 179.65 L198.84 180.11 L197.54 180.27 L196.22 180.13 L194.97 179.71 L193.86 179.02 L179.37 167.51 L178.5 166.62 L177.92 165.59 L177.65 164.48 L177.73 163.37 L178.14 162.33 L178.86 161.44Z" fill="#6e6e6e" stroke="#e0e0e0" stroke-width="1.1"/>
<path d="M197.96 162.1 L198.34 162.44 L198.65 162.84 L198.87 163.27 L199.01 163.73 L199.06 164.19 L199.01 164.65 L198.87 165.08 L198.64 165.49 L198.33 165.85 L197.95 166.15 L197.51 166.39 L197.02 166.55 L196.49 166.64 L195.96 166.64 L195.42 166.57 L194.9 166.42 L194.41 166.19 L193.97 165.9 L193.59 165.55 L193.28 165.15 L193.06 164.72 L192.92 164.26 L192.88 163.8 L192.93 163.34 L193.07 162.91 L193.3 162.51 L193.61 162.15 L193.99 161.85 L194.44 161.61 L194.92 161.45 L195.44 161.36 L195.98 161.35 L196.52 161.43 L197.03 161.58 L197.52 161.8Z" fill="#fff"/>
<path d="M210.3 150.53 L207.97 148.43 L206.08 146.05 L204.7 143.47 L203.85 140.77 L203.56 138.03 L203.84 135.34 L204.68 132.77 L206.04 130.41 L207.88 128.31 L210.16 126.55 L212.79 125.17 L215.7 124.2 L218.81 123.69 L222.02 123.64 L225.24 124.06 L228.37 124.93 L231.33 126.23 L234.02 127.93 L265.82 151.48 L268.27 153.6 L270.3 156.02 L271.84 158.67 L272.85 161.46 L273.3 164.31 L273.15 167.14 L272.42 169.85 L271.13 172.37 L269.31 174.62 L267.01 176.52 L264.31 178 L261.29 179.04 L258.05 179.58 L254.68 179.62 L251.3 179.15 L248 178.18 L244.9 176.76 L242.09 174.93Z" fill="#fff"/>
<path d="M232.94 128.96 L235.01 130.77 L236.71 132.82 L237.99 135.07 L238.8 137.44 L239.12 139.87 L238.93 142.27 L238.24 144.58 L237.07 146.72 L235.45 148.62 L233.43 150.23 L231.08 151.5 L228.45 152.38 L225.65 152.85 L222.74 152.89 L219.84 152.49 L217.02 151.68 L214.37 150.48 L211.98 148.93 L209.92 147.08 L208.25 144.98 L207.02 142.7 L206.27 140.32 L206.01 137.9 L206.25 135.52 L206.99 133.25 L208.19 131.16 L209.82 129.3 L211.83 127.74 L214.15 126.52 L216.73 125.67 L219.48 125.21 L222.32 125.17 L225.17 125.54 L227.94 126.31 L230.56 127.46Z" fill="#707070"/>
<path d="M264.28 153 L266.44 154.88 L268.23 157.03 L269.6 159.36 L270.48 161.83 L270.87 164.35 L270.74 166.85 L270.09 169.25 L268.95 171.47 L267.33 173.45 L265.31 175.13 L262.92 176.44 L260.26 177.35 L257.39 177.83 L254.42 177.86 L251.44 177.45 L248.53 176.6 L245.79 175.35 L243.3 173.73 L241.15 171.79 L239.39 169.61 L238.08 167.24 L237.25 164.76 L236.93 162.24 L237.12 159.77 L237.82 157.41 L238.99 155.23 L240.62 153.31 L242.64 151.69 L244.99 150.42 L247.6 149.54 L250.41 149.07 L253.31 149.04 L256.24 149.43 L259.1 150.24 L261.8 151.44Z" fill="#707070"/>
<text transform="matrix(0.9179 -0.8821 1.1354 0.8542 231.09 143.44)" font-size="7.9" fill="#fff" font-weight="bold" text-anchor="middle" stroke="#fff" stroke-width="0.3">UP</text>
<path d="M217.38 140.33 L223.99 134.05 L215.64 133.22Z" fill="#fff"/>
<text transform="matrix(0.6990 -0.6916 1.1735 0.8849 255.03 164.18)" font-size="8.2" fill="#fff" font-weight="bold" text-anchor="middle" stroke="#fff" stroke-width="0.3">DOWN</text>
<path d="M254.75 169.6 L261.64 162.75 L263 169.86Z" fill="#fff"/>
<path d="M203.74 210.93 L204.09 210.67 L204.52 210.5 L204.98 210.44 L205.46 210.49 L205.92 210.65 L206.32 210.9 L217.41 219.88 L217.74 220.22 L217.97 220.62 L218.08 221.05 L218.06 221.47 L217.92 221.87 L217.67 222.22 L205.32 234.6 L204.97 234.87 L204.54 235.04 L204.06 235.1 L203.57 235.04 L203.11 234.88 L202.7 234.61 L191.61 225.44 L191.29 225.1 L191.07 224.7 L190.97 224.28 L190.99 223.85 L191.14 223.45 L191.4 223.1Z" fill="#fff"/>
<path d="M230.89 184.14 L231.23 183.88 L231.64 183.72 L232.1 183.66 L232.57 183.71 L233.02 183.86 L233.43 184.11 L244.52 192.74 L244.85 193.07 L245.09 193.45 L245.2 193.86 L245.19 194.27 L245.06 194.66 L244.82 194.99 L223.91 215.95 L223.56 216.22 L223.14 216.39 L222.67 216.45 L222.19 216.39 L221.73 216.23 L221.32 215.98 L210.22 207.05 L209.9 206.72 L209.68 206.33 L209.57 205.91 L209.59 205.49 L209.73 205.1 L209.98 204.77Z" fill="#fff"/>
<text transform="matrix(0.4877 -0.4883 1.1886 0.9814 203.92 233.61)" font-size="12.6" fill="#000" font-weight="bold" text-anchor="start" >EXO</text>
<text transform="matrix(0.4763 -0.4770 1.1892 0.9554 222.51 215)" font-size="12.6" fill="#000" font-weight="bold" text-anchor="start" >TERRA</text>
<path d="M217.11 210.14 L217.76 210.75 L218.28 211.44 L218.68 212.2 L218.92 212.99 L219.01 213.79 L218.94 214.59 L218.71 215.35 L218.34 216.06 L217.82 216.68 L217.19 217.21 L216.44 217.62 L215.62 217.9 L214.74 218.05 L213.84 218.06 L212.93 217.93 L212.05 217.66 L211.22 217.26 L210.48 216.74 L209.83 216.13 L209.31 215.43 L208.92 214.67 L208.68 213.88 L208.6 213.07 L208.67 212.28 L208.9 211.52 L209.28 210.82 L209.8 210.2 L210.43 209.68 L211.17 209.28 L211.99 208.99 L212.86 208.85 L213.76 208.84 L214.66 208.97 L215.54 209.24 L216.36 209.63Z" fill="#fff"/>
<path d="M221.12 223.95 C217.8 218.42 213.85 214.88 212.16 210.18 S211.37 205.7 207.59 201.28" fill="none" stroke="#fff" stroke-width="3.2" stroke-linecap="round"/>
<path d="M221.12 223.95 C217.8 218.42 213.85 214.88 212.16 210.18 S211.37 205.7 207.59 201.28" fill="none" stroke="#000" stroke-width="1.0" stroke-linecap="round"/>
<path d="M234.14 180.51 L234.39 180.73 L234.59 180.98 L234.74 181.26 L234.84 181.55 L234.87 181.84 L234.85 182.13 L234.77 182.41 L234.63 182.67 L234.44 182.9 L234.21 183.09 L233.93 183.24 L233.62 183.35 L233.3 183.4 L232.96 183.4 L232.62 183.36 L232.29 183.26 L231.97 183.11 L231.69 182.93 L231.45 182.7 L231.25 182.45 L231.1 182.17 L231 181.88 L230.97 181.59 L230.99 181.3 L231.07 181.02 L231.21 180.76 L231.4 180.54 L231.64 180.35 L231.91 180.19 L232.22 180.09 L232.54 180.04 L232.88 180.03 L233.22 180.08 L233.55 180.18 L233.86 180.32Z" fill="none" stroke="#fff" stroke-width="0.6"/>
<path d="M245.78 237.81 L246.31 237.4 L246.95 237.14 L247.66 237.05 L248.4 237.13 L249.11 237.38 L249.75 237.78 L261.17 246.96 L261.69 247.5 L262.06 248.12 L262.25 248.78 L262.25 249.45 L262.05 250.08 L261.67 250.62 L252.65 260.09 L252.11 260.51 L251.46 260.78 L250.73 260.87 L249.98 260.79 L249.26 260.53 L248.62 260.11 L237.19 250.76 L236.68 250.22 L236.32 249.6 L236.15 248.94 L236.16 248.27 L236.37 247.65 L236.75 247.11Z" fill="#fff"/>
<text transform="matrix(0.9807 -1.0086 1.2255 0.9945 238.95 240.55)" font-size="4.1" fill="#fff" font-weight="900" text-anchor="middle" >電源</text>
<path d="M261.6 221.48 L262.12 221.09 L262.76 220.83 L263.47 220.74 L264.2 220.82 L264.9 221.06 L265.54 221.45 L276.96 230.43 L277.48 230.94 L277.85 231.55 L278.05 232.2 L278.05 232.86 L277.86 233.47 L277.5 234 L268.66 243.28 L268.13 243.69 L267.49 243.95 L266.77 244.04 L266.02 243.96 L265.31 243.71 L264.66 243.3 L253.24 234.17 L252.72 233.65 L252.36 233.04 L252.18 232.39 L252.19 231.73 L252.39 231.12 L252.77 230.6Z" fill="#fff"/>
<text transform="matrix(0.8166 -0.8398 1.2255 0.9714 254.87 224.18)" font-size="4.1" fill="#fff" font-weight="900" text-anchor="middle" >タイマー</text>
<path d="M276.92 205.69 L277.43 205.3 L278.06 205.05 L278.76 204.96 L279.49 205.03 L280.19 205.27 L280.82 205.65 L292.24 214.42 L292.76 214.93 L293.14 215.52 L293.34 216.16 L293.35 216.8 L293.17 217.4 L292.81 217.92 L284.15 227.01 L283.63 227.41 L283 227.67 L282.28 227.76 L281.55 227.68 L280.83 227.43 L280.19 227.04 L268.77 218.11 L268.25 217.6 L267.89 217.01 L267.7 216.37 L267.7 215.73 L267.9 215.13 L268.26 214.62Z" fill="#fff"/>
<text transform="matrix(0.9416 -0.9683 1.2252 0.9493 270.27 208.33)" font-size="4.1" fill="#fff" font-weight="900" text-anchor="middle" >サーモ</text>
<path d="M292.12 190.01 L292.62 189.63 L293.24 189.39 L293.94 189.3 L294.66 189.37 L295.36 189.6 L295.98 189.98 L307.39 198.54 L307.92 199.04 L308.3 199.62 L308.5 200.24 L308.52 200.87 L308.35 201.46 L308 201.96 L299.51 210.87 L299.01 211.27 L298.38 211.52 L297.67 211.61 L296.94 211.53 L296.23 211.29 L295.59 210.91 L284.18 202.18 L283.66 201.69 L283.29 201.11 L283.1 200.48 L283.09 199.86 L283.28 199.27 L283.63 198.77Z" fill="#fff"/>
<text transform="matrix(0.7843 -0.8066 1.2247 0.9277 285.56 192.61)" font-size="4.1" fill="#fff" font-weight="900" text-anchor="middle" >センサー</text>
<path d="M243.11 248.29 L247.82 243.41 L252.53 247.22 L253.14 249.35 L250.2 252.42 L247.82 252.12Z" fill="#000"/>
<path d="M250 252.62 L250.99 251.6 L254.23 254.23 L253.25 255.26Z" fill="#000"/>
<path d="M252.36 250.16 L253.34 249.14 L256.58 251.77 L255.61 252.79Z" fill="#000"/>
<path d="M245.47 245.84 L243.74 244.44 L240.79 246.58 L240.2 249.93 L242.6 252.25" fill="none" stroke="#000" stroke-width="1.2" stroke-linejoin="round"/>
<path d="M269.6 227.61 L270.55 228.48 L271.33 229.47 L271.93 230.54 L272.31 231.67 L272.48 232.82 L272.43 233.96 L272.15 235.04 L271.66 236.05 L270.96 236.94 L270.09 237.69 L269.06 238.28 L267.91 238.68 L266.68 238.89 L265.4 238.9 L264.11 238.71 L262.85 238.32 L261.66 237.75 L260.58 237.01 L259.63 236.13 L258.86 235.13 L258.27 234.05 L257.89 232.92 L257.74 231.77 L257.8 230.64 L258.09 229.56 L258.59 228.57 L259.29 227.69 L260.16 226.95 L261.18 226.37 L262.32 225.97 L263.54 225.76 L264.81 225.75 L266.09 225.94 L267.34 226.32 L268.52 226.88Z" fill="none" stroke="#000" stroke-width="1.9"/>
<path d="M261.39 229.35 L265.48 232.59 L267.97 229.99" fill="none" stroke="#000" stroke-width="1.2"/>
<path d="M274.84 212.73 L283.15 219.17" fill="none" stroke="#000" stroke-width="2.2" stroke-linecap="round"/>
<path d="M285.81 217.97 L286.19 218.32 L286.51 218.71 L286.75 219.14 L286.91 219.59 L286.99 220.05 L286.97 220.5 L286.86 220.93 L286.67 221.33 L286.39 221.68 L286.05 221.98 L285.64 222.21 L285.18 222.37 L284.69 222.46 L284.17 222.46 L283.65 222.39 L283.15 222.23 L282.67 222.01 L282.23 221.72 L281.84 221.37 L281.53 220.97 L281.28 220.54 L281.12 220.09 L281.05 219.64 L281.07 219.19 L281.18 218.76 L281.38 218.36 L281.65 218.01 L282 217.71 L282.41 217.48 L282.86 217.32 L283.35 217.24 L283.87 217.23 L284.38 217.31 L284.89 217.46 L285.37 217.68Z" fill="#000"/>
<text transform="matrix(0.9370 -0.9731 1.2383 0.9546 282.25 211.31)" font-size="3.8" fill="#000" font-weight="bold" text-anchor="middle" >°C</text>
<path d="M287.21 199.49 L293.48 193.01 L296.94 195.61 L294.64 198 L302.6 204.02 L300.94 205.76 L292.98 199.72 L290.66 202.12Z" fill="#000"/>
<path d="M288.81 197.39 L290.1 196.06 L292.08 197.55 L290.78 198.89Z" fill="#fff"/>
<line x1="65.5" y1="34" x2="65.5" y2="73" stroke="#000" stroke-width="1.6"/>
<circle cx="65.5" cy="73" r="3" fill="#231815"/>
<line x1="115.5" y1="143.8" x2="74" y2="216.5" stroke="#f25c0a" stroke-width="2"/>
<circle cx="115.5" cy="143.8" r="3.3" fill="#f25c0a"/>
<line x1="168.5" y1="193.3" x2="82.5" y2="277.3" stroke="#f25c0a" stroke-width="2"/>
<circle cx="168.5" cy="193.3" r="3.3" fill="#f25c0a"/>
<line x1="197.7" y1="168.7" x2="108.6" y2="331.3" stroke="#f25c0a" stroke-width="2"/>
<circle cx="197.7" cy="168.7" r="3.3" fill="#f25c0a"/>
<line x1="230.3" y1="130.6" x2="341.5" y2="53.7" stroke="#f25c0a" stroke-width="2"/>
<circle cx="230.3" cy="130.6" r="3.3" fill="#f25c0a"/>
<line x1="266.5" y1="153" x2="341.5" y2="77.5" stroke="#f25c0a" stroke-width="2"/>
<circle cx="266.5" cy="153" r="3.3" fill="#f25c0a"/>
<line x1="309.5" y1="487" x2="248.2" y2="472.5" stroke="#f25c0a" stroke-width="2"/>
<circle cx="309.5" cy="487" r="3.3" fill="#f25c0a"/>
<line x1="437.5" y1="472.5" x2="433.75" y2="537" stroke="#f25c0a" stroke-width="2"/>
<circle cx="437.5" cy="472.5" r="3.3" fill="#f25c0a"/>
<line x1="510.5" y1="451" x2="545" y2="521" stroke="#f25c0a" stroke-width="2"/>
<circle cx="510.5" cy="451" r="3.3" fill="#f25c0a"/>
<line x1="558" y1="400" x2="560.7" y2="352.3" stroke="#f25c0a" stroke-width="2"/>
<circle cx="558" cy="400" r="3.3" fill="#f25c0a"/>
<rect x="349.5" y="92.5" width="194" height="69" fill="#fff" stroke="#4d4d4d" stroke-width="1"/>
<rect x="36.5" y="367.5" width="237" height="70" fill="#fff" stroke="#4d4d4d" stroke-width="1"/>
<text x="17.3" y="23.2" font-size="18.3" letter-spacing="0" font-weight="500" fill="#000" >吊り下げ用フック</text>
<text x="346.4" y="50.1" font-size="17.8" font-weight="500" fill="#000"><tspan font-size="19.6" font-weight="400" stroke="#000" stroke-width="0.35" textLength="32.6" lengthAdjust="spacingAndGlyphs">UP</tspan>ボタン</text>
<text x="347.2" y="82.1" font-size="17.7" font-weight="500" fill="#000"><tspan font-size="19.6" font-weight="400" stroke="#000" stroke-width="0.35" textLength="71.6" lengthAdjust="spacingAndGlyphs">DOWN</tspan>ボタン</text>
<text x="362.4" y="121.2" font-size="19" letter-spacing="1.05" font-weight="400" fill="#000" >設定したい数値や</text>
<text x="361.7" y="150.9" font-size="19" letter-spacing="1.05" font-weight="400" fill="#000" >モードを選びます<tspan dx="2.5">。</tspan></text>
<text x="17.2" y="219.7" font-size="19.4" letter-spacing="0.3" font-weight="500" fill="#000" >温度<tspan dx="-6.4">・</tspan></text>
<text x="17" y="245.2" font-size="19.4" letter-spacing="0.4" font-weight="500" fill="#000" >時間表示</text>
<text x="17.5" y="300.3" font-size="18.6" letter-spacing="0" font-weight="500" fill="#000" >警報ランプ</text>
<text x="36.5" y="357" font-size="18.8" letter-spacing="0" font-weight="500" fill="#000" >設定ボタン</text>
<text x="43.5" y="397.2" font-size="17.4" letter-spacing="0.98" font-weight="400" fill="#000" >点滅表示した数値やモード</text>
<text x="43.5" y="424.1" font-size="17.4" letter-spacing="0.98" font-weight="400" fill="#000" >を決定し、設定します<tspan dx="2.5">。</tspan></text>
<text x="132.5" y="475.5" font-size="16.6" letter-spacing="0" font-weight="500" fill="#000" >差し込みプラグ</text>
<text x="530.3" y="347.5" font-size="16.8" letter-spacing="0" font-weight="500" fill="#000" >センサー</text>
</svg>
</body></html>
